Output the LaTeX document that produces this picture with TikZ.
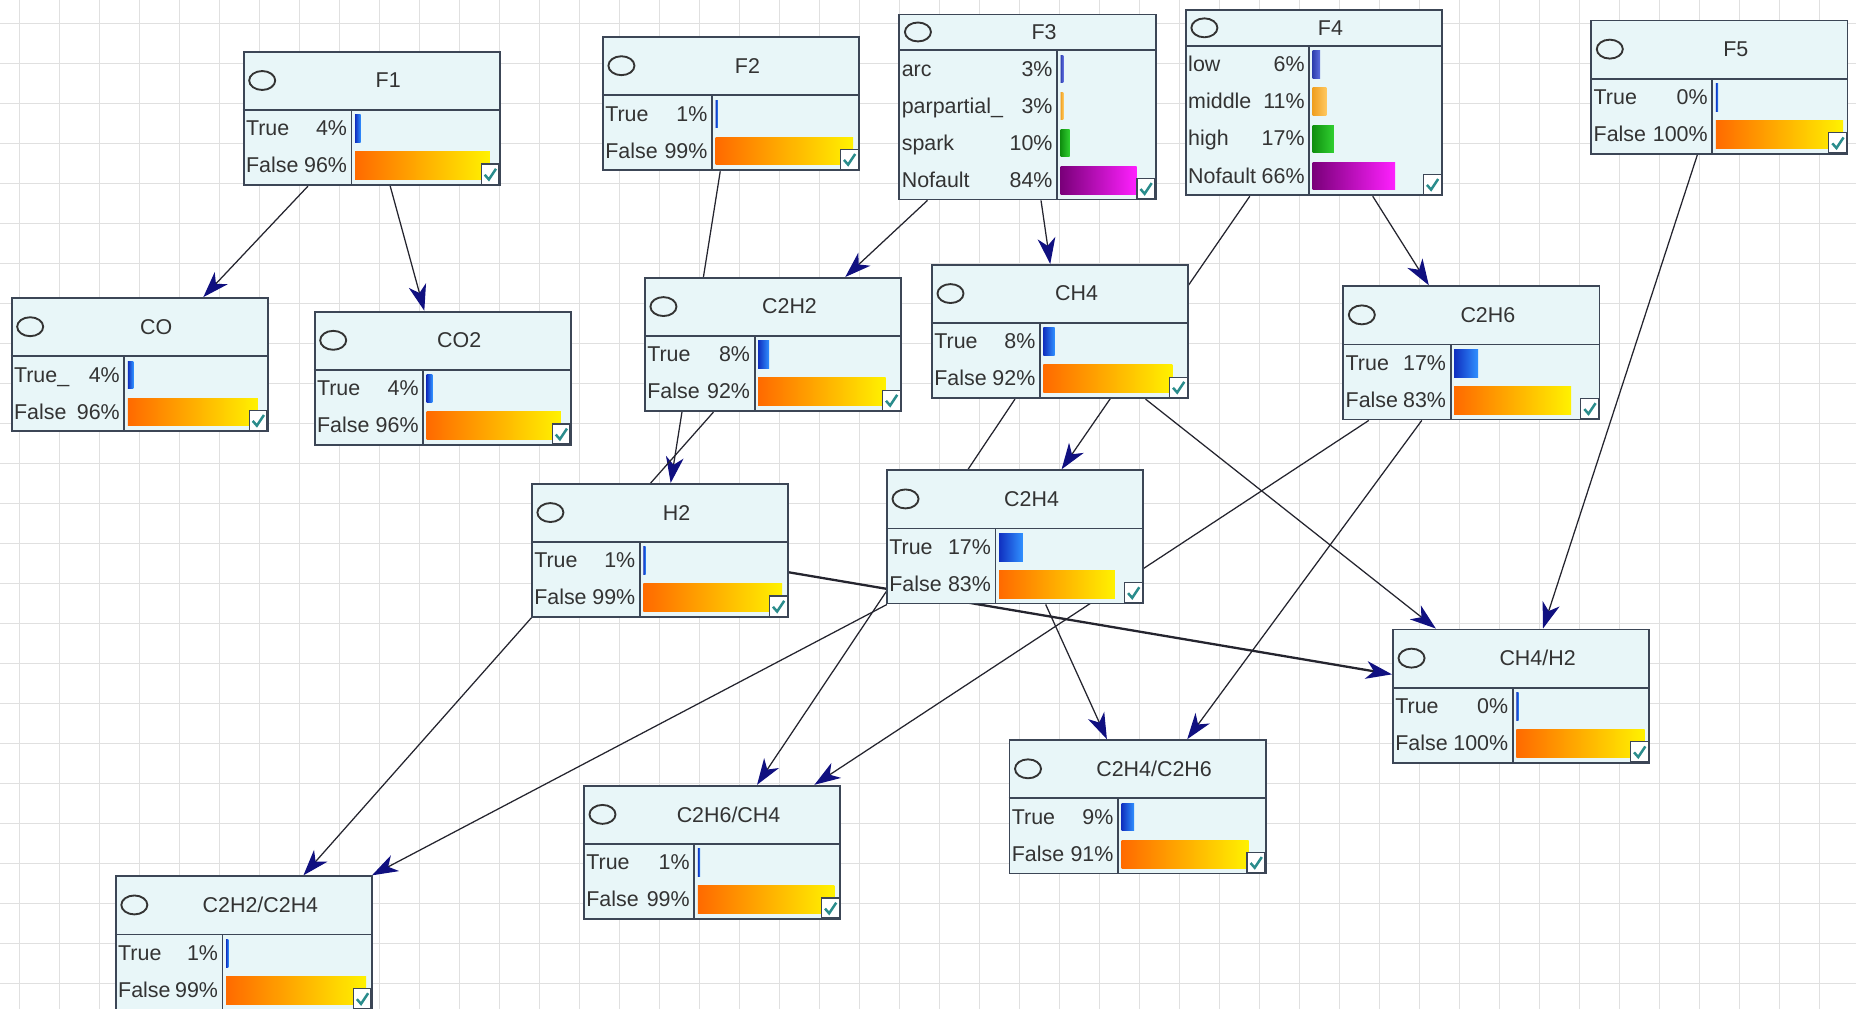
\documentclass[tikz,border=0pt]{standalone}
\usepackage{fontspec}
\setmainfont{Liberation Sans}
\usetikzlibrary{arrows.meta, backgrounds}

\definecolor{boxfill}{HTML}{E8F6F8}
\definecolor{boxline}{HTML}{3C4656}
\definecolor{textgray}{HTML}{333333}
\definecolor{linkgray}{HTML}{24242E}
\definecolor{tipblue}{HTML}{101080}
\definecolor{gridgray}{HTML}{E0E0E0}
\definecolor{tickteal}{HTML}{2A8C8C}
\definecolor{trueL}{HTML}{1030C0}
\definecolor{trueR}{HTML}{3090FF}
\definecolor{falseL}{HTML}{FF6A00}
\definecolor{falseR}{HTML}{FFF200}
\definecolor{arcL}{HTML}{3040B0}
\definecolor{arcR}{HTML}{6070E0}
\definecolor{midL}{HTML}{F0A020}
\definecolor{midR}{HTML}{FFC860}
\definecolor{greenL}{HTML}{109010}
\definecolor{greenR}{HTML}{30D030}
\definecolor{purpL}{HTML}{7A007A}
\definecolor{purpR}{HTML}{FF20FF}

\tikzstyle{bnbox} = [rectangle, draw=boxline, fill=boxfill, line width=0.9pt, inner sep=0pt, minimum width=43.3mm, anchor=north west]
\tikzstyle{boxrule} = [draw=boxline, line width=0.9pt]
\tikzstyle{nodeicon} = [draw=textgray, line width=0.9pt]
\tikzstyle{nodetitle} = [text=textgray, inner sep=0pt, font=\fontsize{10.3}{12}\selectfont]
\tikzstyle{statetext} = [text=textgray, inner sep=0pt, text height=1.55ex, text depth=0.25ex, font=\fontsize{10.3}{12}\selectfont]
\tikzstyle{checkbox} = [draw=boxline, fill=white, line width=0.6pt]
\tikzstyle{tick} = [draw=tickteal, line width=1.2pt]
\tikzstyle{link} = [draw=linkgray, line width=0.6pt, -{Stealth[length=4.4mm, width=3mm, inset=1.3mm, color=tipblue]}]
\tikzstyle{gridline} = [draw=gridgray, line width=0.5pt]

% name, x, y, header height, rows, divider, title, states
\newcommand{\bnnode}[8]{%
  \node (#1) [bnbox, minimum height={(#4+31.3*#5)*0.2mm}] at (#2,#3) {};
  \draw [boxrule] (#2,{#3+#4}) -- ({#2+216.5},{#3+#4});
  \draw [boxrule] ({#2+#6},{#3+#4}) -- ({#2+#6},{#3+#4+31.3*#5});
  \draw [nodeicon] ({#2+16.5},{#3+#4/2}) ellipse (11 and 8);
  \node [nodetitle] at ({#2+123},{#3+#4/2}) {#7};
  \foreach \lab/\pct/\val/\lc/\rc [count=\k] in {#8} {
    \node [statetext, anchor=west] at ({#2+2.5},{#3+#4+31.3*\k-15.6}) {\lab};
    \node [statetext, anchor=east] at ({#2+#6-3.5},{#3+#4+31.3*\k-15.6}) {\pct};
    \shade [left color=\lc, right color=\rc] ({#2+#6+3},{#3+#4+31.3*\k-27.3}) rectangle ++({max(2,(210.5-#6)*\val/100)},23.5);
  }
  \draw [checkbox] ({#2+201.5},{#3+#4+31.3*#5-17}) rectangle ++(15,17);
  \draw [tick] ({#2+204.5},{#3+#4+31.3*#5-8}) -- ++(3.5,4) -- ++(6,-9);
}

\begin{document}
\begin{tikzpicture}[x=0.2mm, y=-0.2mm]
    \useasboundingbox (0,0) rectangle (1568,852);
    \begin{pgfonlayer}{background}
        \fill [white] (0,0) rectangle (1568,852);
        \foreach \gx in {16.3,50.1,...,1568} \draw [gridline] (\gx,0) -- (\gx,852);
        \foreach \gy in {20,53.8,...,852} \draw [gridline] (0,\gy) -- (1568,\gy);
    \end{pgfonlayer}

    \bnnode{F1}{205}{43}{50}{2}{92}{F1}{True/4\%/4/trueL/trueR, False/96\%/96/falseL/falseR}
    \bnnode{F2}{508.5}{30.5}{50}{2}{93}{F2}{True/1\%/1/trueL/trueR, False/99\%/99/falseL/falseR}
    \bnnode{F3}{759}{11.5}{31}{4}{134}{F3}{arc/3\%/3/arcL/arcR, parpartial\_/3\%/3/midL/midR, spark/10\%/10/greenL/greenR, Nofault/84\%/84/purpL/purpR}
    \bnnode{F4}{1001}{8}{31}{4}{105}{F4}{low/6\%/6/arcL/arcR, middle/11\%/11/midL/midR, high/17\%/17/greenL/greenR, Nofault/66\%/66/purpL/purpR}
    \bnnode{F5}{1343.5}{16.5}{50}{2}{103}{F5}{True/0\%/0/trueL/trueR, False/100\%/100/falseL/falseR}
    \bnnode{CO}{9}{251}{50}{2}{96}{CO}{True\_/4\%/4/trueL/trueR, False/96\%/96/falseL/falseR}
    \bnnode{CO2}{265}{262.5}{50}{2}{92.5}{CO2}{True/4\%/4/trueL/trueR, False/96\%/96/falseL/falseR}
    \bnnode{C2H2}{544}{234}{50}{2}{93.5}{C2H2}{True/8\%/8/trueL/trueR, False/92\%/92/falseL/falseR}
    \bnnode{CH4}{786.5}{223}{50}{2}{92}{CH4}{True/8\%/8/trueL/trueR, False/92\%/92/falseL/falseR}
    \bnnode{C2H6}{1134}{241}{50}{2}{91.5}{C2H6}{True/17\%/17/trueL/trueR, False/83\%/83/falseL/falseR}
    \bnnode{H2}{448.5}{408}{50}{2}{92}{H2}{True/1\%/1/trueL/trueR, False/99\%/99/falseL/falseR}
    \bnnode{C2H4}{748.5}{396.5}{50}{2}{92.5}{C2H4}{True/17\%/17/trueL/trueR, False/83\%/83/falseL/falseR}
    \bnnode{CH4H2}{1176}{531}{50}{2}{102}{CH4/H2}{True/0\%/0/trueL/trueR, False/100\%/100/falseL/falseR}
    \bnnode{C2H6CH4}{492.5}{663}{50}{2}{94}{C2H6/CH4}{True/1\%/1/trueL/trueR, False/99\%/99/falseL/falseR}
    \bnnode{C2H4C2H6}{852}{624.5}{50}{2}{92.5}{C2H4/C2H6}{True/9\%/9/trueL/trueR, False/91\%/91/falseL/falseR}
    \bnnode{C2H2C2H4}{97}{739.5}{50}{2}{91}{C2H2/C2H4}{True/1\%/1/trueL/trueR, False/99\%/99/falseL/falseR}

    \begin{pgfonlayer}{background}
        \draw [link] (F1) -- (CO);
        \draw [link] (F1) -- (CO2);
        \draw [link] (F2) -- (H2);
        \draw [link] (F3) -- (C2H2);
        \draw [link] (F3) -- (CH4);
        \draw [link] (F4) -- (C2H4);
        \draw [link] (F4) -- (C2H6);
        \draw [link] (F5) -- (CH4H2);
        \draw [link, line width=1.1pt] (H2) -- (CH4H2);
        \draw [link] (CH4) -- (CH4H2);
        \draw [link] (CH4) -- (C2H6CH4);
        \draw [link] (C2H6) -- (C2H6CH4);
        \draw [link] (C2H4) -- (C2H4C2H6);
        \draw [link] (C2H6) -- (C2H4C2H6);
        \draw [link] (C2H2) -- (C2H2C2H4);
        \draw [link] (C2H4) -- (C2H2C2H4);
    \end{pgfonlayer}
\end{tikzpicture}
\end{document}
